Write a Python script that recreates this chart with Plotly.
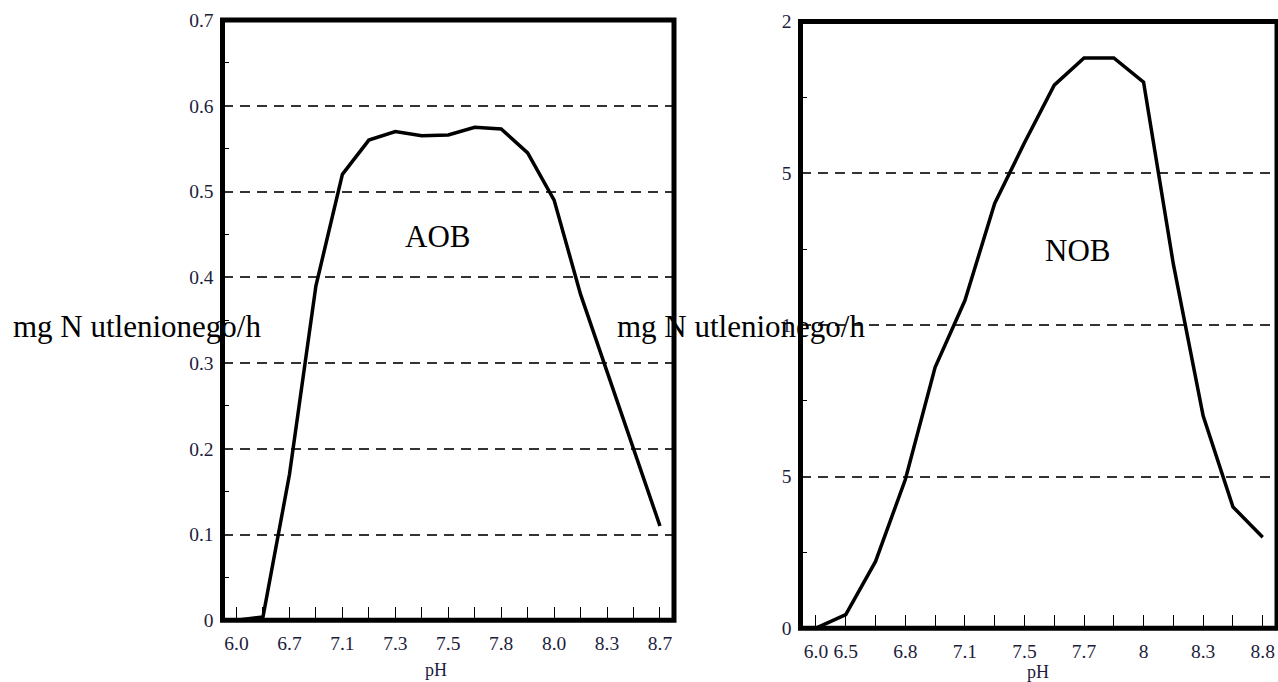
import plotly.graph_objects as go

# --- data -------------------------------------------------------------
# AOB: 17 evenly spaced pH steps, labelled on every second step
aob_ph_labels = ["6.0", "6.7", "7.1", "7.3", "7.5", "7.8", "8.0", "8.3", "8.7"]
aob_rate = [0.0, 0.004, 0.17, 0.39, 0.52, 0.56, 0.57, 0.565, 0.566,
            0.575, 0.573, 0.545, 0.49, 0.38, 0.29, 0.20, 0.11]
aob_y_ticks = [0, 0.1, 0.2, 0.3, 0.4, 0.5, 0.6, 0.7]
aob_y_labels = ["0", "0.1", "0.2", "0.3", "0.4", "0.5", "0.6", "0.7"]

# NOB: 16 pH steps, labelled on steps 0,1,3,5,...,15
nob_ph_labels = ["6.0", "6.5", "6.8", "7.1", "7.5", "7.7", "8", "8.3", "8.8"]
nob_label_steps = [0, 1, 3, 5, 7, 9, 11, 13, 15]
nob_rate = [0.0, 0.45, 2.2, 4.9, 8.6, 10.8, 14.0, 16.0, 17.9,
            18.8, 18.8, 18.0, 12.0, 7.0, 4.0, 3.0]
nob_y_ticks = [0, 5, 10, 15, 20]
nob_y_labels = ["0", "5", "1", "5", "2"]

y_title = "mg N utlenionego/h"

# --- layout helpers ---------------------------------------------------
W, H = 1278, 682
SERIF = "Liberation Serif"
TICK_COLOR = "#1c1c3c"


def px_x(v):
    return v / W


def px_y(v):
    return 1 - v / H


aob_steps = list(range(len(aob_rate)))
aob_ticktext = [aob_ph_labels[i // 2] if i % 2 == 0 else "" for i in aob_steps]
nob_steps = list(range(len(nob_rate)))
nob_ticktext = [nob_ph_labels[nob_label_steps.index(i)] if i in nob_label_steps else ""
                for i in nob_steps]

fig = go.Figure()
fig.add_trace(go.Scatter(x=aob_steps, y=aob_rate, mode="lines",
                         line=dict(color="black", width=3.5),
                         xaxis="x", yaxis="y", showlegend=False))
fig.add_trace(go.Scatter(x=nob_steps, y=nob_rate, mode="lines",
                         line=dict(color="black", width=3.5),
                         xaxis="x2", yaxis="y2", showlegend=False))

tick_font = dict(family=SERIF, size=19.5, color=TICK_COLOR)

common_x = dict(ticks="inside", ticklen=13, tickwidth=1.3, tickcolor="black",
                showgrid=False, zeroline=False, showline=False,
                tickfont=tick_font, automargin=False, ticklabelstandoff=9,
                fixedrange=True)
common_y = dict(ticks="", showgrid=True, gridcolor="#333333", gridwidth=1.5,
                griddash="10px,7px", zeroline=False, showline=False,
                tickfont=tick_font, automargin=False, ticklabelstandoff=8,
                fixedrange=True)

fig.update_layout(
    width=W, height=H,
    margin=dict(l=0, r=0, t=0, b=0),
    paper_bgcolor="white", plot_bgcolor="white",
    showlegend=False,
    xaxis=dict(domain=[px_x(222.5), px_x(674)], range=[-0.53, 16.53],
               tickmode="array", tickvals=aob_steps, ticktext=aob_ticktext,
               anchor="y", **common_x),
    yaxis=dict(domain=[px_y(620.3), px_y(20)], range=[0, 0.7],
               tickmode="array", tickvals=aob_y_ticks, ticktext=aob_y_labels,
               minor=dict(tickmode="array",
                          tickvals=[0.05, 0.15, 0.25, 0.35, 0.45, 0.55, 0.65],
                          ticks="inside", ticklen=6, tickcolor="black",
                          tickwidth=1.2, showgrid=False),
               anchor="x", **common_y),
    xaxis2=dict(domain=[px_x(800.5), px_x(1277)], range=[-0.52, 15.48],
                tickmode="array", tickvals=nob_steps, ticktext=nob_ticktext,
                anchor="y2", **common_x),
    yaxis2=dict(domain=[px_y(628.2), px_y(21.5)], range=[0, 20],
                tickmode="array", tickvals=nob_y_ticks, ticktext=nob_y_labels,
                minor=dict(tickmode="array", tickvals=[2.5, 7.5, 12.5, 17.5],
                           ticks="inside", ticklen=6, tickcolor="black",
                           tickwidth=1.2, showgrid=False),
                anchor="x2", **common_y),
)

# heavy frames around both panels
for xr, yr in (("x domain", "y domain"), ("x2 domain", "y2 domain")):
    fig.add_shape(type="rect", xref=xr, yref=yr, x0=0, x1=1, y0=0, y1=1,
                  line=dict(color="black", width=5), layer="above")

big_font = dict(family=SERIF, size=31, color="black")
small_font = dict(family=SERIF, size=18, color=TICK_COLOR)

annotations = [
    dict(text="AOB", x=px_x(437.5), y=px_y(236), font=big_font,
         xanchor="center", yanchor="middle"),
    dict(text="NOB", x=px_x(1077.5), y=px_y(250), font=big_font,
         xanchor="center", yanchor="middle"),
    dict(text=y_title, x=px_x(11), y=px_y(326), font=big_font,
         xanchor="left", yanchor="middle"),
    dict(text=y_title, x=px_x(614.5), y=px_y(326), font=big_font,
         xanchor="left", yanchor="middle"),
    dict(text="pH", x=px_x(435.5), y=px_y(670), font=small_font,
         xanchor="center", yanchor="middle"),
    dict(text="pH", x=px_x(1038), y=px_y(671.5), font=small_font,
         xanchor="center", yanchor="middle"),
]
for a in annotations:
    fig.add_annotation(xref="paper", yref="paper", showarrow=False, **a)

fig.write_html("out.html")
